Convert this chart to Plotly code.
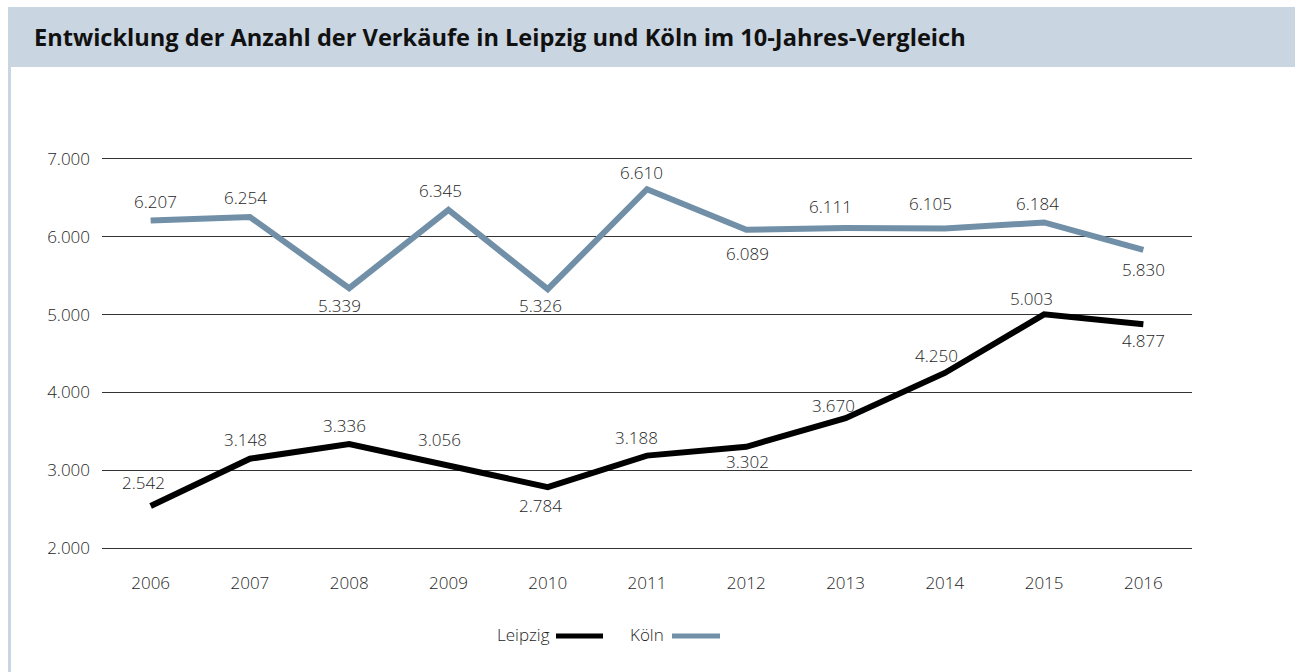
import plotly.graph_objects as go

years = ["2006", "2007", "2008", "2009", "2010", "2011", "2012", "2013", "2014", "2015", "2016"]
leipzig = [2542, 3148, 3336, 3056, 2784, 3188, 3302, 3670, 4250, 5003, 4877]
koeln = [6207, 6254, 5339, 6345, 5326, 6610, 6089, 6111, 6105, 6184, 5830]
series_names = ["Leipzig", "Köln"]
title = "Entwicklung der Anzahl der Verkäufe in Leipzig und Köln im 10-Jahres-Vergleich"

# label placement offsets (pixels) relative to each point
leipzig_dx = [-7, -4, -5, -9, -7, -11, 1, -12, -8, -13, 0]
leipzig_dy = [23, 19, 19, 26, -18, 18, -15, 13, 17, 16, -16]
koeln_dx = [5, -4, -10, -8, -7, -6, 1, -15, -14, -7, 0]
koeln_dy = [19, 19, -17, 19, -16, 17, -24, 22, 25, 19, -20]

W, H = 1295, 672
L, R, T, B = 102, 103, 155, 120
pw, ph = W - L - R, H - T - B

def px(x):
    return (x - L) / pw

def py(y):
    return (H - B - y) / ph

def fmt(v):
    return f"{v:,}".replace(",", ".")

KOELN_C = "#7190a8"
LEIPZIG_C = "#000000"
TXT = "#1e1e1e"
FONT = "Open Sans"
LBL = dict(family=FONT, size=17, color=TXT, weight=300)

fig = go.Figure()
fig.add_trace(go.Scatter(x=years, y=leipzig, name=series_names[0], mode="lines",
                         line=dict(color=LEIPZIG_C, width=6), showlegend=False))
fig.add_trace(go.Scatter(x=years, y=koeln, name=series_names[1], mode="lines",
                         line=dict(color=KOELN_C, width=6), showlegend=False))

ann = []
for series, dxs, dys in ((leipzig, leipzig_dx, leipzig_dy), (koeln, koeln_dx, koeln_dy)):
    for i, (v, dx, dy) in enumerate(zip(series, dxs, dys)):
        ann.append(dict(x=i, y=v, xref="x", yref="y", text=fmt(v), showarrow=False,
                        xshift=dx, yshift=dy, font=LBL))

ann.append(dict(xref="paper", yref="paper", x=px(32), y=py(37), xanchor="left", yanchor="middle",
                text="<b>" + title + "</b>", showarrow=False,
                font=dict(family=FONT, size=23.6, color="#111111")))

shapes = [
    dict(type="rect", xref="paper", yref="paper", x0=px(8), x1=px(W + 5), y0=py(67), y1=py(7),
         fillcolor="#c9d5e1", line=dict(width=0), layer="below"),
    dict(type="line", xref="paper", yref="paper", x0=px(9.5), x1=px(9.5), y0=py(67), y1=py(H + 5),
         line=dict(color="#c9d5e1", width=3), layer="below"),
]

# custom legend: text followed by line sample
legend_items = [(series_names[0], LEIPZIG_C, 552, 556, 603), (series_names[1], KOELN_C, 666, 672, 720)]
for name, col, txt_right, l0, l1 in legend_items:
    ann.append(dict(xref="paper", yref="paper", x=px(txt_right), y=py(634), xanchor="right",
                    yanchor="middle", text=name, showarrow=False, font=LBL))
    shapes.append(dict(type="line", xref="paper", yref="paper", x0=px(l0), x1=px(l1),
                       y0=py(636), y1=py(636), line=dict(color=col, width=5)))

fig.update_layout(
    width=W, height=H,
    margin=dict(l=L, r=R, t=T, b=B),
    paper_bgcolor="white", plot_bgcolor="white",
    showlegend=False,
    annotations=ann, shapes=shapes,
    font=dict(family=FONT, size=17, color=TXT),
)
fig.update_xaxes(type="category", range=[-0.49, 10.49], showgrid=False, zeroline=False,
                 showline=False, ticks="", ticklabelstandoff=19, tickfont=LBL)
fig.update_yaxes(range=[1950, 7050], tickvals=[2000, 3000, 4000, 5000, 6000, 7000],
                 ticktext=[fmt(v) for v in [2000, 3000, 4000, 5000, 6000, 7000]],
                 showgrid=True, gridcolor="#333333", gridwidth=1, zeroline=False,
                 showline=False, ticks="", ticklabelstandoff=11, tickfont=LBL)

fig.write_html("out.html", config={"displayModeBar": False},
               post_script="document.body.style.margin='0';")
